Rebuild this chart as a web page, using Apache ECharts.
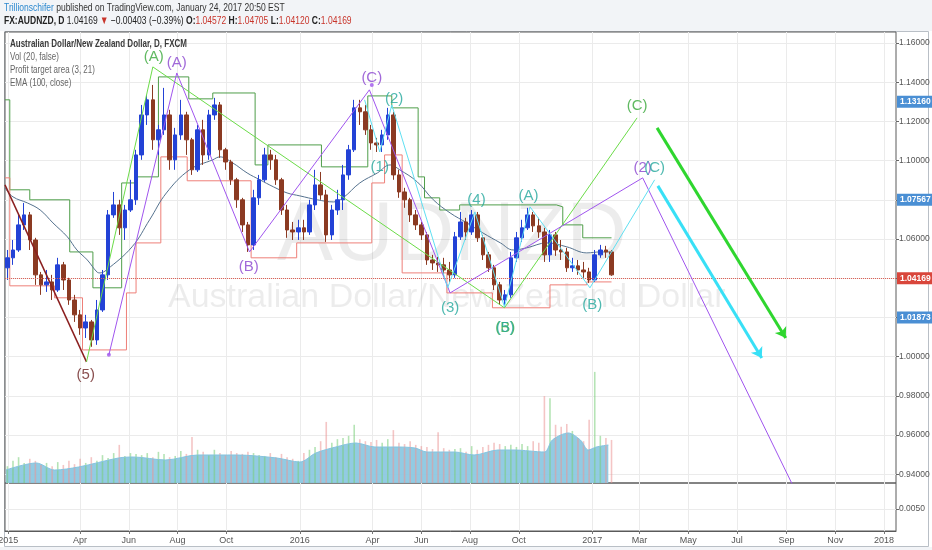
<!DOCTYPE html>
<html>
<head>
<meta charset="utf-8">
<title>AUDNZD</title>
<script src="https://cdn.jsdelivr.net/npm/echarts@6.0.0/dist/echarts.min.js"></script>
<style>
html,body{margin:0;padding:0;background:#ffffff;overflow:hidden;}
#chart{width:932px;height:550px;}
</style>
</head>
<body>
<div id="chart"></div>
<script>
// ---------- DATA ----------
const weekDates = [
'2014-12-31',
'2015-01-07','2015-01-14','2015-01-21','2015-01-28','2015-02-04','2015-02-11','2015-02-18','2015-02-25',
'2015-03-04','2015-03-11','2015-03-18','2015-03-25','2015-04-01','2015-04-08','2015-04-15','2015-04-22','2015-04-29',
'2015-05-06','2015-05-13','2015-05-20','2015-05-27','2015-06-03','2015-06-10','2015-06-17','2015-06-24',
'2015-07-01','2015-07-08','2015-07-15','2015-07-22','2015-07-29','2015-08-05','2015-08-12','2015-08-19','2015-08-26',
'2015-09-02','2015-09-09','2015-09-16','2015-09-23','2015-09-30','2015-10-07','2015-10-14','2015-10-21','2015-10-28',
'2015-11-04','2015-11-11','2015-11-18','2015-11-25','2015-12-02','2015-12-09','2015-12-16','2015-12-23','2015-12-30',
'2016-01-06','2016-01-13','2016-01-20','2016-01-27','2016-02-03','2016-02-10','2016-02-17','2016-02-24',
'2016-03-02','2016-03-09','2016-03-16','2016-03-23','2016-03-30','2016-04-06','2016-04-13','2016-04-20','2016-04-27',
'2016-05-04','2016-05-11','2016-05-18','2016-05-25','2016-06-01','2016-06-08','2016-06-15','2016-06-22','2016-06-29',
'2016-07-06','2016-07-13','2016-07-20','2016-07-27','2016-08-03','2016-08-10','2016-08-17','2016-08-24','2016-08-31',
'2016-09-07','2016-09-14','2016-09-21','2016-09-28','2016-10-05','2016-10-12','2016-10-19','2016-10-26',
'2016-11-02','2016-11-09','2016-11-16','2016-11-23','2016-11-30','2016-12-07','2016-12-14','2016-12-21','2016-12-28',
'2017-01-04','2017-01-11','2017-01-18','2017-01-25'
];
const openPrices = [
1.0453,1.0504,1.0544,1.0672,1.0723,1.0595,1.0417,1.0366,1.0381,1.0340,
1.0468,1.0391,1.0289,1.0213,1.0146,1.0177,1.0085,1.0238,1.0417,1.0723,
1.0774,1.0657,1.0748,1.0800,1.1029,1.1233,1.1310,1.1106,1.1157,1.1233,
1.1004,1.1131,1.1233,1.1106,1.0953,1.1157,1.1029,1.1233,1.1284,1.1055,
1.0993,1.0902,1.0800,1.0672,1.0570,1.0810,1.0902,1.1029,1.1004,1.0902,
1.0748,1.0646,1.0636,1.0657,1.0636,1.0774,1.0876,1.0825,1.0621,1.0748,
1.0800,1.0927,1.1055,1.1269,1.1249,1.1157,1.1090,1.1080,1.1131,1.1233,
1.0927,1.0840,1.0800,1.0723,1.0672,1.0621,1.0493,1.0478,1.0468,1.0442,
1.0417,1.0611,1.0687,1.0636,1.0723,1.0606,1.0519,1.0453,1.0366,1.0289,
1.0315,1.0504,1.0606,1.0657,1.0723,1.0667,1.0636,1.0519,1.0621,1.0544,
1.0534,1.0453,1.0463,1.0442,1.0432,1.0391,1.0519,1.0544,1.0534
];
const closePrices = [
1.0504,1.0544,1.0672,1.0723,1.0595,1.0417,1.0366,1.0381,1.0340,1.0468,
1.0391,1.0289,1.0213,1.0146,1.0177,1.0085,1.0238,1.0417,1.0723,1.0774,
1.0657,1.0748,1.0800,1.1029,1.1233,1.1310,1.1106,1.1157,1.1233,1.1004,
1.1131,1.1233,1.1106,1.0953,1.1157,1.1029,1.1233,1.1284,1.1055,1.0993,
1.0902,1.0800,1.0672,1.0570,1.0810,1.0902,1.1029,1.1004,1.0902,1.0748,
1.0646,1.0636,1.0657,1.0636,1.0774,1.0876,1.0825,1.0621,1.0748,1.0800,
1.0927,1.1055,1.1269,1.1249,1.1157,1.1090,1.1080,1.1131,1.1233,1.0927,
1.0840,1.0800,1.0723,1.0672,1.0621,1.0493,1.0478,1.0468,1.0442,1.0417,
1.0611,1.0687,1.0636,1.0723,1.0606,1.0519,1.0453,1.0366,1.0289,1.0315,
1.0504,1.0606,1.0657,1.0723,1.0667,1.0636,1.0519,1.0621,1.0544,1.0534,
1.0453,1.0463,1.0442,1.0432,1.0391,1.0519,1.0544,1.0534,1.0417
];
const highPrices = [
1.0544,1.0595,1.0723,1.0784,1.0738,1.0606,1.0432,1.0442,1.0417,1.0504,
1.0483,1.0402,1.0315,1.0238,1.0213,1.0187,1.0289,1.0442,1.0748,1.0840,
1.0800,1.0774,1.0902,1.1055,1.1284,1.1335,1.1386,1.1182,1.1371,1.1259,
1.1167,1.1310,1.1249,1.1116,1.1182,1.1208,1.1259,1.1320,1.1299,1.1065,
1.1004,1.0912,1.0810,1.0687,1.0851,1.0927,1.1065,1.1055,1.1029,1.0912,
1.0774,1.0687,1.0698,1.0698,1.0800,1.0953,1.0942,1.0851,1.0774,1.0851,
1.0978,1.1080,1.1310,1.1310,1.1284,1.1182,1.1116,1.1157,1.1269,1.1249,
1.0953,1.0861,1.0810,1.0748,1.0687,1.0636,1.0519,1.0509,1.0504,1.0483,
1.0636,1.0738,1.0708,1.0748,1.0738,1.0621,1.0534,1.0468,1.0381,1.0340,
1.0534,1.0636,1.0698,1.0759,1.0738,1.0708,1.0657,1.0646,1.0636,1.0595,
1.0555,1.0504,1.0493,1.0483,1.0453,1.0544,1.0570,1.0565,1.0544
];
const lowPrices = [
1.0391,1.0468,1.0534,1.0646,1.0544,1.0366,1.0315,1.0330,1.0289,1.0330,
1.0340,1.0264,1.0177,1.0111,1.0095,1.0050,1.0060,1.0228,1.0391,1.0708,
1.0621,1.0595,1.0738,1.0774,1.1004,1.1182,1.1055,1.1029,1.1131,1.0953,
1.0953,1.1106,1.1029,1.0927,1.0942,1.0978,1.1004,1.1208,1.1014,1.0953,
1.0876,1.0759,1.0636,1.0534,1.0544,1.0774,1.0891,1.0953,1.0876,1.0723,
1.0606,1.0595,1.0595,1.0595,1.0621,1.0748,1.0800,1.0585,1.0595,1.0723,
1.0748,1.0902,1.1044,1.1182,1.1131,1.1055,1.1044,1.1044,1.1106,1.0902,
1.0810,1.0759,1.0687,1.0646,1.0595,1.0468,1.0442,1.0432,1.0412,1.0381,
1.0402,1.0595,1.0595,1.0621,1.0585,1.0493,1.0432,1.0340,1.0264,1.0264,
1.0300,1.0483,1.0585,1.0646,1.0636,1.0606,1.0483,1.0483,1.0514,1.0493,
1.0432,1.0432,1.0417,1.0402,1.0376,1.0381,1.0504,1.0504,1.0412
];
const volumes = [
410,540,630,490,590,540,440,490,410,510,
440,540,460,590,490,630,540,680,610,730,
930,660,730,710,680,730,630,760,710,630,
660,780,710,1120,810,760,680,810,730,680,
780,730,710,760,730,680,660,730,630,710,
630,590,540,730,810,880,1020,1490,980,1070,
1100,1150,1420,1070,1020,1000,1050,980,1070,1290,
980,950,1020,930,900,880,830,1240,850,810,
830,850,760,900,810,880,930,980,950,900,
930,880,950,900,1020,980,2120,2070,1420,1370,
1440,1270,1100,1020,1540,2710,1150,1100,1050
];
const volumeMA = [
['2014-12-29',317],['2015-02-05',488],['2015-02-28',317],['2015-03-30',390],['2015-05-19',610],
['2015-06-07',634],['2015-07-17',561],['2015-08-26',683],['2015-10-14',683],['2015-12-03',610],
['2016-01-01',512],['2016-01-21',732],['2016-02-15',878],['2016-03-11',976],['2016-04-04',878],
['2016-04-29',878],['2016-05-24',854],['2016-06-08',756],['2016-07-13',756],['2016-08-06',683],
['2016-09-05',805],['2016-09-25',805],['2016-11-02',756],['2016-11-12',1049],['2016-12-02',1220],
['2016-12-17',1049],['2016-12-27',805],['2017-01-06',878],['2017-01-21',927]
];
const ema100 = [
['2014-12-28',1.0861],['2015-01-07',1.0815],['2015-01-25',1.0784],['2015-02-10',1.0748],['2015-02-26',1.0682],
['2015-03-16',1.0611],['2015-03-28',1.0544],['2015-04-10',1.0493],['2015-04-22',1.0432],['2015-04-26',1.0427],
['2015-05-04',1.0442],['2015-06-05',1.0560],['2015-06-27',1.0698],['2015-07-18',1.0835],['2015-08-16',1.0953],
['2015-09-14',1.1004],['2015-09-23',1.1019],['2015-10-09',1.0988],['2015-10-27',1.0937],['2015-11-12',1.0902],
['2015-11-29',1.0866],['2015-12-16',1.0835],['2016-01-01',1.0820],['2016-01-23',1.0800],['2016-02-12',1.0789],
['2016-02-24',1.0810],['2016-03-16',1.0886],['2016-04-07',1.0937],['2016-04-23',1.0978],['2016-05-05',1.0953],
['2016-05-27',1.0891],['2016-06-16',1.0800],['2016-07-07',1.0733],['2016-07-28',1.0682],['2016-08-17',1.0631],
['2016-09-08',1.0580],['2016-09-24',1.0544],['2016-10-11',1.0555],['2016-11-05',1.0580],['2016-11-30',1.0560],
['2016-12-25',1.0529],['2017-01-11',1.0534],['2017-01-23',1.0534]
];
const targetUpper = [
['2014-12-28',1.1310],['2015-01-03',1.0851],['2015-01-28',1.0800],['2015-03-19',1.0534],['2015-04-17',1.0351],
['2015-05-23',1.0886],['2015-06-09',1.0917],['2015-07-08',1.1427],['2015-08-15',1.1315],['2015-09-14',1.1345],
['2015-11-06',1.0978],['2015-11-22',1.1080],['2016-01-28',1.0968],['2016-03-26',1.1330],['2016-04-25',1.1269],
['2016-05-28',1.0917],['2016-06-05',1.0810],['2016-06-24',1.0748],['2016-07-19',1.0774],['2016-11-17',1.0764],
['2016-11-25',1.0672],['2016-12-20',1.0606],['2017-01-25',1.0606]
];
const targetLower = [
['2014-12-28',1.0912],['2015-01-03',1.0361],['2015-02-28',1.0300],['2015-04-04',1.0034],['2015-05-29',1.0325],
['2015-06-10',1.0580],['2015-07-11',1.1019],['2015-08-13',1.0897],['2015-11-01',1.0504],['2015-12-28',1.0580],
['2016-03-31',1.0886],['2016-04-16',1.1029],['2016-05-08',1.0427],['2016-07-03',1.0325],['2016-08-29',1.0249],
['2016-11-09',1.0366],['2016-12-25',1.0381],['2017-01-25',1.0381]
];
const waveDarkRed = [['2014-12-28',1.0876],['2015-04-09',0.9973]];
const waveGreen = [['2015-04-09',0.9973],['2015-07-01',1.1478],['2016-09-13',1.0249],['2017-02-26',1.1218]];
const wavePurple = [['2015-05-07',1.0009],['2015-07-31',1.1447],['2015-10-30',1.0534],['2016-03-28',1.1361],
  ['2016-07-07',1.0325],['2017-03-05',1.0912],['2017-09-14',0.9300]];
const waveCyan = [['2016-03-22',1.1310],['2016-04-10',1.1044],['2016-04-25',1.1284],['2016-07-04',1.0351],
  ['2016-08-07',1.0738],['2016-09-13',1.0254],['2016-10-15',1.0764],['2016-12-29',1.0351],['2017-03-20',1.0902]];
const arrowGreen = [['2017-03-23',1.1167],['2017-08-31',1.0095]];
const arrowCyan = [['2017-03-24',1.0871],['2017-08-01',0.9993]];
const waveLabels = [
['2015-07-02',1.1529,'(A)','green'],['2015-07-31',1.1499,'(A)','purple'],['2015-10-29',1.0458,'(B)','purple'],
['2015-04-08',0.9907,'(5)','darkred'],['2016-03-31',1.1422,'(C)','purple'],['2016-04-28',1.1315,'(2)','teal'],
['2016-04-10',1.0968,'(1)','teal'],['2016-07-07',1.0249,'(3)','teal'],['2016-08-09',1.0800,'(4)','teal'],
['2016-09-14',1.0146,'(B)','green'],['2016-09-14',1.0146,'(5)','teal'],['2016-10-13',1.0820,'(A)','teal'],
['2017-01-01',1.0264,'(B)','teal'],['2017-02-26',1.1279,'(C)','green'],['2017-03-05',1.0963,'(2)','purple'],
['2017-03-20',1.0963,'(C)','teal']
];
const waveDots = [['2015-05-07',1.0009],['2016-03-31',1.1386]];
const priceTicks = [0.94,0.96,0.98,1.00,1.02,1.04,1.06,1.08,1.10,1.12,1.14,1.16];
const timeTickDates = ['2015-01-01','2015-04-01','2015-06-01','2015-08-01','2015-10-01','2016-01-01','2016-04-01',
  '2016-06-01','2016-08-01','2016-10-01','2017-01-01','2017-03-01','2017-05-01','2017-07-01','2017-09-01',
  '2017-11-01','2018-01-01'];
const priceTags = [[1.13160,'blue'],[1.07567,'blue'],[1.01873,'blue'],[1.04169,'red']];

// ---------- RENDER ----------
const t = s => Date.parse(s + 'T00:00:00Z');
const pts = arr => arr.map(d => [t(d[0]), d[1]]);
const MONTHS = ['Jan','Feb','Mar','Apr','May','Jun','Jul','Aug','Sep','Oct','Nov','Dec'];
const SANS = "'Liberation Sans',Arial,sans-serif";
const LBL = {green:'#38a83a', purple:'#8a44d0', teal:'#23a89c', darkred:'#6b2222'};
const TAG = {blue:'#4a8fd4', red:'#d9463b'};
const timeTicks = timeTickDates.map(t);
const xMin = t('2014-12-28'), xMax = t('2018-01-16');

const chart = echarts.init(document.getElementById('chart'), null, {renderer:'canvas'});

const candleData = weekDates.map((d,i) => [t(d), openPrices[i], closePrices[i], lowPrices[i], highPrices[i]]);
const volData = weekDates.map((d,i) => ({
  value:[t(d), volumes[i]],
  itemStyle:{color: closePrices[i] >= openPrices[i] ? 'rgba(120,205,120,0.55)' : 'rgba(235,150,150,0.55)'}
}));

function waveLine(data, color, width, z){
  return {type:'line', xAxisIndex:0, yAxisIndex:0, data:pts(data), symbol:'none', silent:true,
    lineStyle:{color:color, width:width}, z:z};
}
function monthLabel(v){
  const d = new Date(v);
  return d.getUTCMonth()===0 ? String(d.getUTCFullYear()) : MONTHS[d.getUTCMonth()];
}
function uiText(x, y, text, sx, extra){
  return {type:'text', x:x, y:y, scaleX:sx, scaleY:1, z:20, silent:true,
    style:Object.assign({text:text, fontSize:10, fontFamily:SANS, fill:'#666'}, extra || {})};
}

const option = {
  animation:false,
  backgroundColor:'#ffffff',
  graphic:[
    {type:'rect', shape:{x:0,y:0,width:932,height:31}, style:{fill:'#f2f4f7'}, z:-10, silent:true},
    {type:'rect', shape:{x:0,y:547,width:932,height:3}, style:{fill:'#f2f4f7'}, z:-10, silent:true},
    {type:'rect', shape:{x:4.5,y:31.5,width:924,height:515}, style:{fill:'none', stroke:'#b9bfc6', lineWidth:1}, z:-9, silent:true},
    {type:'text', x:277, y:195, z:1, silent:true,
      style:{text:'AUDNZD', fontSize:84, fontFamily:SANS, fill:'rgba(0,0,0,0.075)'}},
    {type:'text', x:168, y:281, z:1, silent:true,
      style:{text:'Australian Dollar/New Zealand Dollar', fontSize:34, fontFamily:SANS, fill:'rgba(0,0,0,0.075)'}},
    uiText(4, 2, '{u|Trillionschifer} published on TradingView.com, January 24, 2017 20:50 EST', 0.74,
      {fill:'#333', fontSize:11.5, rich:{u:{fill:'#2d89cf', fontSize:11.5, fontFamily:SANS}}}),
    uiText(4, 15, '{b|FX:AUDNZD, D} 1.04169 {r|▼} −0.00403 (−0.39%) {b|O:}{r|1.04572} {b|H:}{r|1.04705} {b|L:}{r|1.04120} {b|C:}{r|1.04169}', 0.74,
      {fill:'#222', fontSize:11.5, rich:{b:{fontWeight:'bold', fill:'#222', fontSize:11.5, fontFamily:SANS},
                                       r:{fill:'#c8352b', fontSize:11.5, fontFamily:SANS}}}),
    uiText(10, 39, 'Australian Dollar/New Zealand Dollar, D, FXCM', 0.8, {fill:'#3a3a3a', fontWeight:'bold'}),
    uiText(10, 52, 'Vol (20, false)', 0.8),
    uiText(10, 65, 'Profit target area (3, 21)', 0.8),
    uiText(10, 78, 'EMA (100, close)', 0.8)
  ],
  grid:[
    {left:5, right:36, top:32, height:451, show:true, borderColor:'#5a5a5a', borderWidth:1,
     containLabel:false, outerBoundsMode:'none'},
    {left:5, right:36, top:483, height:48, show:true, borderColor:'#5a5a5a', borderWidth:1,
     containLabel:false, outerBoundsMode:'none'}
  ],
  xAxis:[
    {type:'value', gridIndex:0, min:xMin, max:xMax, scale:true,
     axisLine:{show:false}, axisTick:{show:false, customValues:timeTicks},
     axisLabel:{show:false, customValues:timeTicks, formatter:monthLabel},
     splitLine:{show:true, lineStyle:{color:'#ebebeb', width:1}}},
    {type:'value', gridIndex:1, min:xMin, max:xMax, scale:true,
     axisLine:{show:true, lineStyle:{color:'#5a5a5a'}},
     axisTick:{show:true, length:3, customValues:timeTicks, lineStyle:{color:'#777'}},
     axisLabel:{customValues:timeTicks, fontSize:9, color:'#555', fontFamily:SANS, margin:5, formatter:monthLabel},
     splitLine:{show:true, lineStyle:{color:'#ebebeb', width:1}}}
  ],
  yAxis:[
    {type:'value', gridIndex:0, position:'right', min:0.93551, max:1.16561, scale:true,
     axisLine:{show:false},
     axisTick:{show:true, length:3, customValues:priceTicks, lineStyle:{color:'#666'}},
     axisLabel:{customValues:priceTicks, fontSize:8.5, color:'#555', fontFamily:SANS, margin:3,
       formatter:v => v.toFixed(5)},
     splitLine:{show:true, lineStyle:{color:'#ebebeb', width:1}}},
    {type:'value', gridIndex:0, min:0, max:11000, show:false, splitLine:{show:false}},
    {type:'value', gridIndex:1, position:'right', min:0, max:0.0109,
     axisLine:{show:false},
     axisTick:{show:true, length:3, customValues:[0.005], lineStyle:{color:'#666'}},
     axisLabel:{customValues:[0.005], fontSize:8.5, color:'#555', fontFamily:SANS, margin:3,
       formatter:v => v.toFixed(4)},
     splitLine:{show:true, lineStyle:{color:'#ebebeb'}}}
  ],
  series:[
    {type:'bar', name:'Volume', xAxisIndex:0, yAxisIndex:1, data:volData, barWidth:1.6, z:1, silent:true},
    {type:'line', name:'Volume MA', xAxisIndex:0, yAxisIndex:1, data:pts(volumeMA), symbol:'none', smooth:0.3,
     lineStyle:{color:'#86c4df', width:1}, areaStyle:{color:'#8cc8e2', opacity:0.95}, z:1, silent:true},
    {type:'line', name:'Target upper', xAxisIndex:0, yAxisIndex:0, data:pts(targetUpper), step:'end', symbol:'none',
     lineStyle:{color:'#4f9e4a', width:1}, z:2, silent:true},
    {type:'line', name:'Target lower', xAxisIndex:0, yAxisIndex:0, data:pts(targetLower), step:'end', symbol:'none',
     lineStyle:{color:'#ee7f78', width:1}, z:2, silent:true},
    {type:'line', name:'EMA 100', xAxisIndex:0, yAxisIndex:0, data:pts(ema100), symbol:'none', smooth:0.4,
     lineStyle:{color:'#55728e', width:1}, z:3, silent:true},
    {type:'candlestick', name:'AUDNZD', xAxisIndex:0, yAxisIndex:0, data:candleData, barWidth:4, z:4, silent:true,
     itemStyle:{color:'#2342d6', color0:'#8b3a22', borderColor:'#2342d6', borderColor0:'#8b3a22', borderWidth:1},
     markLine:{symbol:'none', silent:true,
       data: priceTags.map(p => ({
         yAxis:p[0],
         lineStyle: p[1]==='red' ? {color:'#e06055', type:'dotted', width:1} : {color:'rgba(0,0,0,0)', width:0},
         label:{show:true, position:'end', distance:1, formatter:p[0].toFixed(5),
           color:'#fff', backgroundColor:TAG[p[1]], padding:[2,3,1,3], fontSize:8.5, fontWeight:'bold', fontFamily:SANS}
       }))}},
    waveLine(waveDarkRed, '#8b1f1f', 1.5, 5),
    waveLine(waveGreen, '#6bdc48', 1, 5),
    waveLine(wavePurple, '#a055ee', 1, 5),
    waveLine(waveCyan, '#5fe0f2', 1, 5),
    {type:'lines', coordinateSystem:'cartesian2d', xAxisIndex:0, yAxisIndex:0, silent:true, z:6,
     symbol:['none','arrow'], symbolSize:10,
     data:[{coords:pts(arrowGreen), lineStyle:{color:'#2fd62f', width:3, opacity:1}},
           {coords:pts(arrowCyan), lineStyle:{color:'#38e0f6', width:3, opacity:1}}]},
    {type:'scatter', xAxisIndex:0, yAxisIndex:0, silent:true, z:6, symbolSize:4,
     itemStyle:{color:'#a055ee'}, data:pts(waveDots)},
    {type:'scatter', xAxisIndex:0, yAxisIndex:0, silent:true, z:7, symbolSize:0.1,
     itemStyle:{color:'rgba(0,0,0,0)'},
     data: waveLabels.map(l => ({value:[t(l[0]), l[1]],
       label:{show:true, position:'inside', formatter:l[2], color:LBL[l[3]], fontSize:15, fontFamily:SANS}}))}
  ]
};
chart.setOption(option);
</script>
</body>
</html>
